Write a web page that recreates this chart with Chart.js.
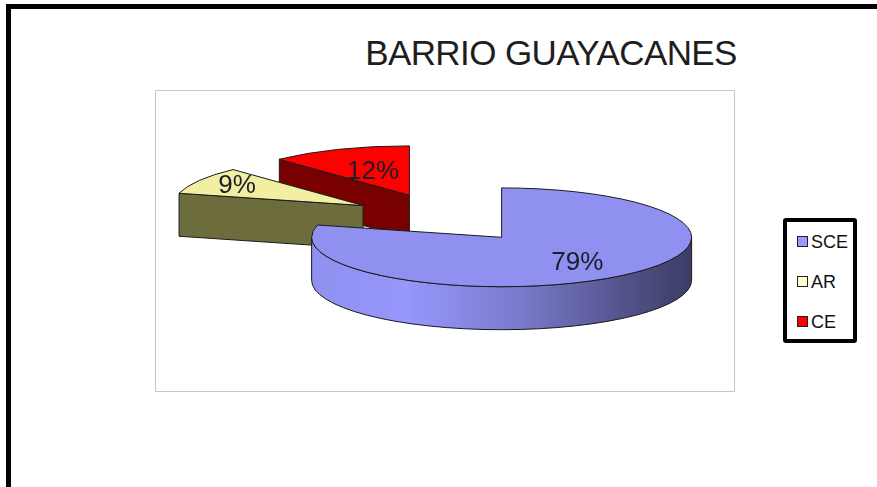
<!DOCTYPE html>
<html>
<head>
<meta charset="utf-8">
<script src="https://cdn.jsdelivr.net/npm/chart.js@4.4.1/dist/chart.umd.min.js"></script>
<style>
  body { margin: 0; background: #fff; width: 877px; height: 487px; overflow: hidden; position: relative;
         font-family: "Liberation Sans", Arial, sans-serif; }
  #frame { position: absolute; left: 6px; top: 4px; width: 900px; height: 500px;
           border-top: 5px solid #000; border-left: 5px solid #000; }
  #plotbox { position: absolute; left: 155px; top: 90px; width: 578px; height: 300px; border: 1.5px solid #c6c6c6; }
  #title { position: absolute; left: 251px; top: 35px; width: 600px; text-align: center;
           font-size: 35px; line-height: 35px; letter-spacing: -0.6px; color: #1e1e1e; }
  #legend { position: absolute; left: 783px; top: 218px; width: 66px; height: 117px;
            border: 4px solid #000; border-radius: 3px; background: #fff; }
  .item { position: absolute; left: 10px; height: 20px; line-height: 20px; font-size: 18px; color: #111; }
  .item span { display: inline-block; width: 9px; height: 9px; border: 1px solid #222; margin-right: 3px; vertical-align: 1px; }
  #c { position: absolute; left: 0; top: 0; }
</style>
</head>
<body>
<div id="frame"></div>
<div id="plotbox"></div>
<div id="title">BARRIO GUAYACANES</div>
<div id="legend"></div>
<canvas id="c" width="877" height="487"></canvas>
<script>
var categories = ['SCE', 'AR', 'CE'];
var percents = [79, 9, 12];
var legendColors = ['#9999FF', '#FFFFCC', '#FF0000'];
var topColors = ['#9090F0', '#F2EEA2', '#FF0000'];
var sideColors = ['#7a7ad4', '#6c6c3c', '#780000'];

// look of the 3d pie
var depth = 43;
var tilt = 0.26;
var explode = 94;          // every slice pulled out by the same distance
var labelRadius = [0.65, 0.77, 0.52];
var wallShades = [[0, 1.0], [0.25, 1.05], [0.55, 0.85], [0.8, 0.6], [1, 0.42]];

function shade(hex, f) {
  var n = parseInt(hex.slice(1), 16);
  var c = [(n >> 16) & 255, (n >> 8) & 255, n & 255].map(function(v) {
    return Math.max(0, Math.min(255, Math.round(v * f)));
  });
  return 'rgb(' + c.join(',') + ')';
}

function sliceGeom(arc, i) {
  var p = arc.getProps(['x', 'y', 'startAngle', 'endAngle', 'outerRadius']);
  var mid = (p.startAngle + p.endAngle) / 2;
  return {
    arc: arc, i: i, p: p, mid: mid,
    cx: p.x + Math.cos(mid) * explode,
    cy: p.y + Math.sin(mid) * explode * tilt
  };
}

function drawSlice(ctx, s) {
  var p = s.p, i = s.i, cx = s.cx, cy = s.cy, r = p.outerRadius;
  var a0 = p.startAngle, a1 = p.endAngle;
  function pt(a, z) { return [cx + r * Math.cos(a), cy + r * Math.sin(a) * tilt + z]; }

  ctx.save();
  ctx.lineWidth = 1;
  ctx.lineJoin = 'round';
  ctx.strokeStyle = '#1a1a1a';

  function face(a) {
    var b = pt(a, 0), c = pt(a, depth);
    ctx.beginPath();
    ctx.moveTo(cx, cy);
    ctx.lineTo(b[0], b[1]);
    ctx.lineTo(c[0], c[1]);
    ctx.lineTo(cx, cy + depth);
    ctx.closePath();
    ctx.fillStyle = sideColors[i];
    ctx.fill();
    ctx.stroke();
  }
  function wall(w0, w1) {
    var g = ctx.createLinearGradient(cx - r, 0, cx + r, 0);
    wallShades.forEach(function(st) { g.addColorStop(st[0], shade(topColors[i], st[1])); });
    ctx.beginPath();
    ctx.ellipse(cx, cy, r, r * tilt, 0, w0, w1);
    ctx.ellipse(cx, cy + depth, r, r * tilt, 0, w1, w0, true);
    ctx.closePath();
    ctx.fillStyle = g;
    ctx.fill();
    ctx.stroke();
  }

  if (Math.cos(a0) < 0) face(a0);
  if (Math.cos(a1) > 0) face(a1);
  [[0, Math.PI], [2 * Math.PI, 3 * Math.PI]].forEach(function(rg) {
    var w0 = Math.max(a0, rg[0]), w1 = Math.min(a1, rg[1]);
    if (w1 > w0) wall(w0, w1);
  });

  // top face: the arc element itself, flattened
  ctx.save();
  ctx.translate(cx, cy);
  ctx.scale(1, tilt);
  ctx.translate(-p.x, -p.y);
  s.arc.draw(ctx);
  ctx.restore();

  ctx.beginPath();
  ctx.moveTo(cx, cy);
  ctx.ellipse(cx, cy, r, r * tilt, 0, a0, a1);
  ctx.closePath();
  ctx.stroke();
  ctx.restore();
}

function drawLabel(ctx, s) {
  var f = labelRadius[s.i] * s.p.outerRadius;
  ctx.save();
  ctx.font = '26px "Liberation Sans", Arial, sans-serif';
  ctx.textAlign = 'center';
  ctx.textBaseline = 'middle';
  ctx.fillStyle = '#1c1c2a';
  ctx.fillText(percents[s.i] + '%', s.cx + Math.cos(s.mid) * f, s.cy + Math.sin(s.mid) * f * tilt);
  ctx.restore();
}

var pie3d = {
  id: 'pie3d',
  beforeDatasetsDraw: function(chart) {
    var ctx = chart.ctx;
    var slices = chart.getDatasetMeta(0).data.map(sliceGeom);
    slices.sort(function(a, b) { return a.cy - b.cy; });
    slices.forEach(function(s) { drawSlice(ctx, s); });
    slices.forEach(function(s) { drawLabel(ctx, s); });
    return false;
  }
};

var legend = document.getElementById('legend');
categories.forEach(function(name, i) {
  var d = document.createElement('div');
  d.className = 'item';
  d.style.top = (10 + i * 40) + 'px';
  d.innerHTML = '<span style="background:' + legendColors[i] + '"></span>' + name;
  legend.appendChild(d);
});

new Chart(document.getElementById('c').getContext('2d'), {
  type: 'pie',
  data: {
    labels: categories,
    datasets: [{
      data: percents,
      backgroundColor: topColors,
      borderWidth: 0,
      radius: 190
    }]
  },
  options: {
    responsive: false,
    animation: false,
    devicePixelRatio: 1,
    layout: { padding: { left: 11, bottom: 51 } },
    plugins: {
      legend: { display: false },
      tooltip: { enabled: false }
    }
  },
  plugins: [pie3d]
});
</script>
</body>
</html>
